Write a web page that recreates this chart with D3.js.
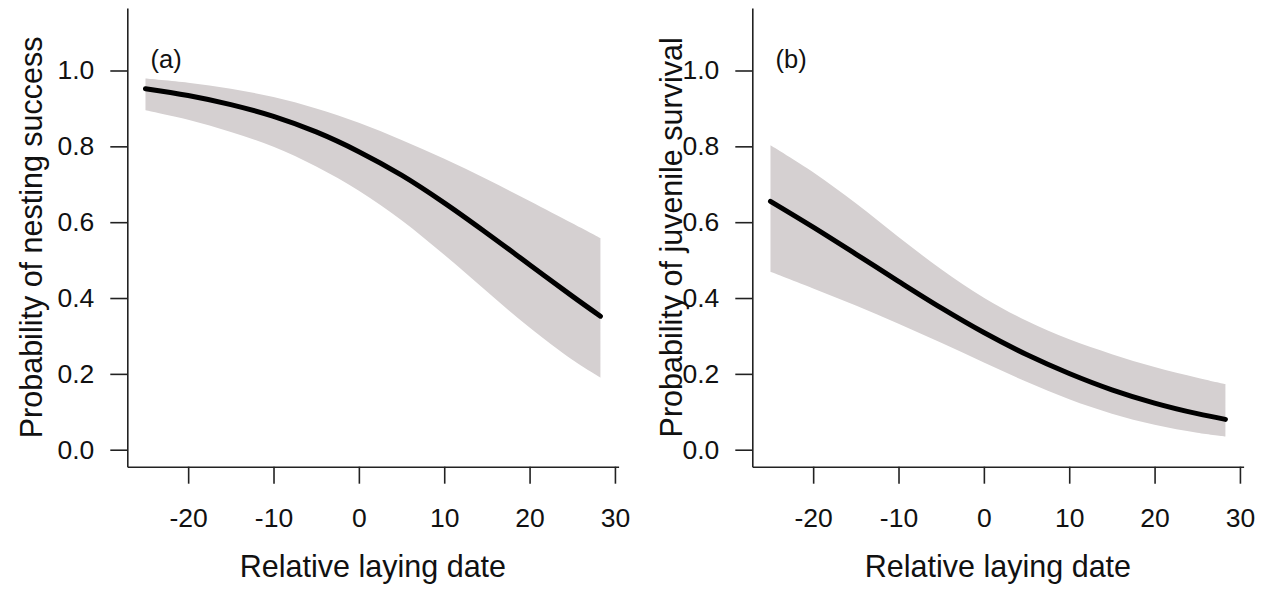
<!DOCTYPE html>
<html>
<head>
  <meta charset="utf-8">
  <title>Laying date effects</title>
  <script src="https://d3js.org/d3.v7.min.js"></script>
  <style>
    body { margin: 0; background: #fff; }
    text { font-family: "Liberation Sans", Arial, sans-serif; fill: #111; }
    .axis path, .axis line { stroke: #222; stroke-width: 1.6; }
  </style>
</head>
<body>
  <svg width="1265" height="590"></svg>
  <script>
    // relative laying date where the fitted curves were read
    var days = [-25, -20, -15, -10, -5, 0, 5, 10, 15, 20, 25, 28.3];

    // (a) nesting success
    var nestFit = [0.952, 0.934, 0.910, 0.879, 0.838, 0.786, 0.724, 0.651, 0.571, 0.488, 0.405, 0.352];
    var nestLow = [0.895, 0.870, 0.838, 0.799, 0.747, 0.683, 0.605, 0.514, 0.417, 0.322, 0.237, 0.190];
    var nestHigh = [0.979, 0.968, 0.952, 0.930, 0.900, 0.862, 0.817, 0.767, 0.713, 0.656, 0.597, 0.558];

    // (b) juvenile survival
    var juvFit = [0.655, 0.587, 0.516, 0.444, 0.374, 0.309, 0.251, 0.201, 0.158, 0.123, 0.095, 0.080];
    var juvLow = [0.469, 0.425, 0.380, 0.332, 0.282, 0.230, 0.179, 0.133, 0.095, 0.066, 0.045, 0.035];
    var juvHigh = [0.803, 0.732, 0.650, 0.561, 0.476, 0.401, 0.340, 0.291, 0.252, 0.218, 0.190, 0.173];

    var xTicks = [-20, -10, 0, 10, 20, 30];
    var yTicks = [0.0, 0.2, 0.4, 0.6, 0.8, 1.0];
    var xDomain = [-27.13, 30.43];
    var yDomain = [-0.0448, 1.1648];

    var panels = [
      { tag: "(a)", ylab: "Probability of nesting success", fit: nestFit, low: nestLow, high: nestHigh, left: 127.3, ylabX: 42 },
      { tag: "(b)", ylab: "Probability of juvenile survival", fit: juvFit, low: juvLow, high: juvHigh, left: 752.3, ylabX: 682 }
    ];

    var svg = d3.select("svg");
    var plotTop = 8, plotBottom = 466.7, plotW = 491.3;

    panels.forEach(function (p) {
      var x = d3.scaleLinear().domain(xDomain).range([p.left, p.left + plotW]);
      var y = d3.scaleLinear().domain(yDomain).range([plotBottom, plotTop]);
      var g = svg.append("g");

      var rows = days.map(function (d, i) {
        return { day: d, fit: p.fit[i], low: p.low[i], high: p.high[i] };
      });

      // confidence band
      var band = d3.area()
        .x(function (d) { return x(d.day); })
        .y0(function (d) { return y(d.low); })
        .y1(function (d) { return y(d.high); })
        .curve(d3.curveCatmullRom);
      g.append("path")
        .datum(rows)
        .attr("d", band)
        .attr("fill", "#d5d0d1");

      // fitted line
      var line = d3.line()
        .x(function (d) { return x(d.day); })
        .y(function (d) { return y(d.fit); })
        .curve(d3.curveCatmullRom);
      g.append("path")
        .datum(rows)
        .attr("d", line)
        .attr("fill", "none")
        .attr("stroke", "#000")
        .attr("stroke-width", 5)
        .attr("stroke-linecap", "round");

      // axes
      var ax = g.append("g")
        .attr("class", "axis")
        .attr("transform", "translate(0," + plotBottom + ")")
        .call(d3.axisBottom(x).tickValues(xTicks).tickFormat(function (d) { return String(d); })
          .tickSize(17).tickSizeOuter(0));
      ax.selectAll("text")
        .attr("y", 60.6)
        .attr("dy", 0)
        .style("font-size", "26.5px");

      var ay = g.append("g")
        .attr("class", "axis")
        .attr("transform", "translate(" + p.left + ",0)")
        .call(d3.axisLeft(y).tickValues(yTicks).tickFormat(d3.format(".1f"))
          .tickSize(17).tickSizeOuter(0).tickPadding(16));
      ay.selectAll("text").style("font-size", "26.5px");
      svg.selectAll(".axis .domain").attr("fill", "none");

      // titles
      g.append("text")
        .attr("x", (x.range()[0] + x.range()[1]) / 2)
        .attr("y", 576.7)
        .attr("text-anchor", "middle")
        .style("font-size", "30.5px")
        .text("Relative laying date");

      g.append("text")
        .attr("transform", "translate(" + p.ylabX + "," + (plotTop + plotBottom) / 2 + ") rotate(-90)")
        .attr("text-anchor", "middle")
        .style("font-size", "30.5px")
        .text(p.ylab);

      g.append("text")
        .attr("x", x(-24.4))
        .attr("y", y(1.006))
        .style("font-size", "25.5px")
        .text(p.tag);
    });
  </script>
</body>
</html>
